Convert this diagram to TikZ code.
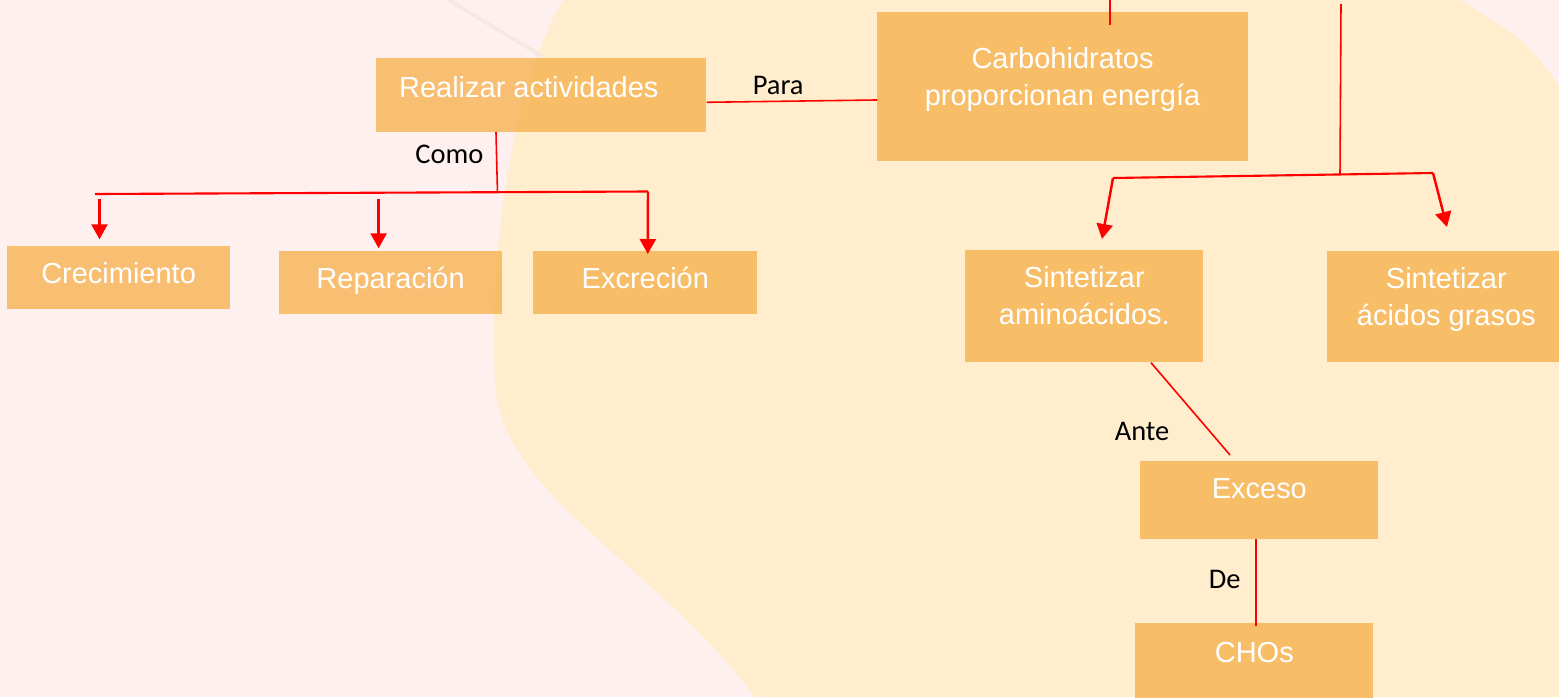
\documentclass[tikz,border=0pt]{standalone}
\usepackage{fontspec}
\setmainfont{Liberation Sans}
\newfontfamily\calibrifont{Carlito}
\usetikzlibrary{arrows.meta}
\usetikzlibrary{calc}
\definecolor{pinkbg}{HTML}{FFF0F0}
\definecolor{creambg}{HTML}{FFEDCD}
\definecolor{boxorange}{HTML}{F6AA3C}
\definecolor{smudge}{HTML}{F3E9E0}
\tikzstyle{concept} = [rectangle, anchor=north west, inner sep=0pt, align=center, fill=boxorange, fill opacity=0.7, text opacity=1, text=white, font=\fontsize{16.5}{21}\selectfont]
\tikzstyle{link} = [red, line width=0.9pt]
\tikzstyle{bar} = [red, line width=1.2pt]
\tikzstyle{arrow} = [red, line width=1.4pt, -{Triangle[width=0.32cm,length=0.3cm]}]
\tikzstyle{word} = [text=black, font=\calibrifont\fontsize{16.2}{20}\selectfont]

\begin{document}
\begin{tikzpicture}[x=0.02cm, y=-0.02cm]
	\useasboundingbox (0,0) rectangle (1559,697);
	\clip (0,0) rectangle (1559,697);
	% background
	\fill [pinkbg] (0,0) rectangle (1559,697);
	\fill [creambg] (563,0) .. controls (505,100) and (485,300) .. (497,400) .. controls (515,500) and (665,575) .. (755,697) -- (1559,697) -- (1559,85) .. controls (1525,40) .. (1460,0) -- cycle;
	\draw [smudge, line width=2pt, line cap=round] (449,0) .. controls (490,25) .. (542,56);
	% boxes
	\node (act) [concept, minimum width=6.6cm, text height=0.78cm, text depth=0.69cm] at (376,58) {Realizar actividades\hspace*{0.5cm}};
	\node (carb) [concept, minimum width=7.41cm, text height=1.86cm, text depth=1.12cm] at (877,12) {Carbohidratos\\proporcionan energía};
	\node (crec) [concept, minimum width=4.45cm, text height=0.746cm, text depth=0.504cm] at (7,246) {Crecimiento};
	\node (rep) [concept, minimum width=4.45cm, text height=0.746cm, text depth=0.504cm] at (279,251) {Reparación};
	\node (excr) [concept, minimum width=4.48cm, text height=0.746cm, text depth=0.504cm] at (533,251) {Excreción};
	\node (amino) [concept, minimum width=4.76cm, text height=1.48cm, text depth=0.76cm] at (965,250) {Sintetizar\\aminoácidos.};
	\node (grasos) [concept, minimum width=4.76cm, text height=1.48cm, text depth=0.74cm] at (1327,251) {Sintetizar\\ácidos grasos};
	\node (exceso) [concept, minimum width=4.76cm, text height=0.746cm, text depth=0.808cm] at (1140,461) {Exceso};
	\node (chos) [concept, minimum width=4.76cm, text height=0.774cm, text depth=1.2cm] at (1135,623) {CHOs};
	% junctions
	\coordinate (jl) at (95,194);
	\coordinate (jc) at (497.5,193.3);
	\coordinate (jr) at (648,191.5);
	\coordinate (s1) at (99.5,199);
	\coordinate (s2) at (378.6,199);
	\coordinate (topin) at (1110,0);
	\coordinate (vtop) at (1341,4);
	\coordinate (jal) at (1113,178);
	\coordinate (jm) at (1340,174.5);
	\coordinate (jar) at (1433,173);
	%lines
	\draw [link] ([yshift=-0.886cm]act.north east) -- node[word, anchor=south, pos=0.42] {Para} ([yshift=-1.76cm]carb.north west);
	\draw [link] ([xshift=2.4cm]act.south west) -- node[word, left=0.13cm, pos=0.37] {Como} (jc);
	\draw [bar] (jl) -- (jr);
	\draw [arrow] (s1) -- ($(crec.north west)+(92.5,-6.7)$);
	\draw [arrow] (s2) -- ($(rep.north west)+(99.6,-2.7)$);
	\draw [arrow] (jr) -- ($(excr.north west)+(114.8,3)$);
	\draw [link] (topin) -- ([yshift=-0.25cm]carb.north -| topin);
	\draw [link] (vtop) -- (jm);
	\draw [bar] (jal) -- (jar);
	\draw [arrow] (jal) -- ($(amino.north west)+(137,-11)$);
	\draw [arrow] (jar) -- ($(grasos.north west)+(120,-24)$);
	\draw [link] ($(amino.south west)+(186,0)$) -- node[word, left=0.67cm, pos=0.74] {Ante} ($(exceso.north west)+(90,-6)$);
	\draw [link] ($(exceso.south west)+(115.7,0)$) -- node[word, left=0.17cm, pos=0.46] {De} ($(chos.north west)+(120.7,3)$);
\end{tikzpicture}
\end{document}
